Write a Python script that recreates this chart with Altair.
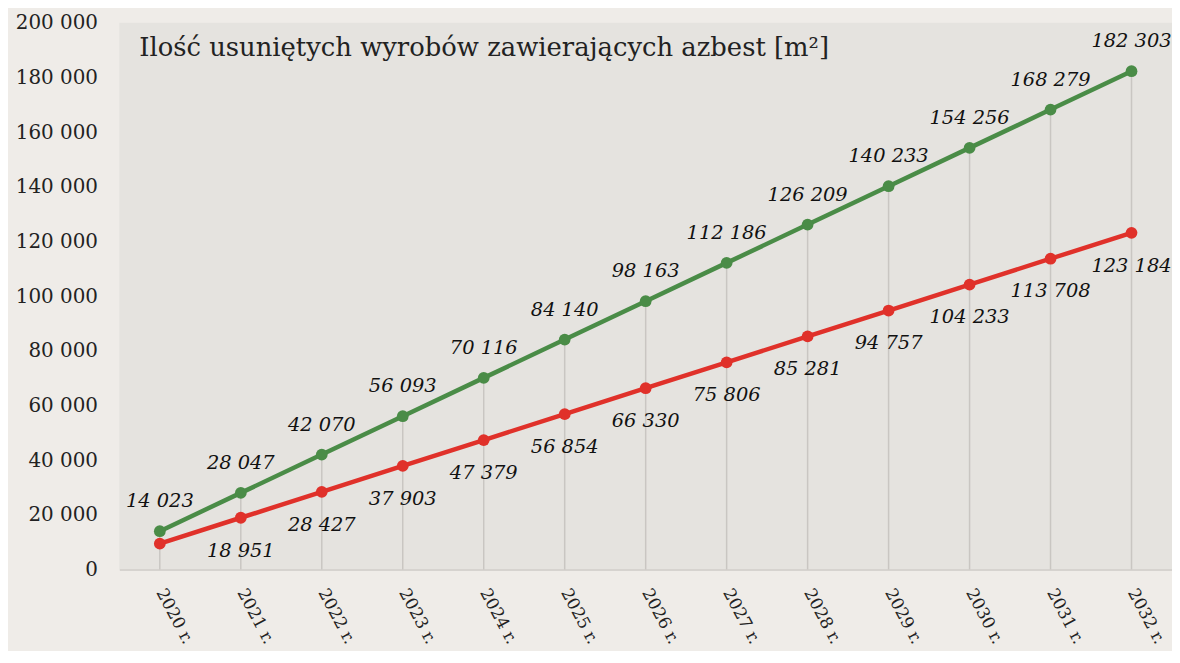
import altair as alt
import pandas as pd

years = ["2020 r.", "2021 r.", "2022 r.", "2023 r.", "2024 r.", "2025 r.", "2026 r.",
         "2027 r.", "2028 r.", "2029 r.", "2030 r.", "2031 r.", "2032 r."]
green = [14023, 28047, 42070, 56093, 70116, 84140, 98163, 112186, 126209, 140233,
         154256, 168279, 182303]
red = [9476, 18951, 28427, 37903, 47379, 56854, 66330, 75806, 85281, 94757,
       104233, 113708, 123184]
red_labelled = [False] + [True] * 12
title_text = "Ilość usuniętych wyrobów zawierających azbest [m²]"

def fmt(v):
    return f"{v:,}".replace(",", " ")

df = pd.DataFrame({
    "year": years,
    "green": green,
    "red": red,
    "green_lbl": [fmt(v) for v in green],
    "red_lbl": [fmt(v) if s else "" for v, s in zip(red, red_labelled)],
})

FONT = "DejaVu Serif"
GREEN = "#4a8c47"
RED = "#e0312a"

x = alt.X("year:N", sort=years, title=None,
          scale=alt.Scale(type="point", padding=0.5),
          axis=alt.Axis(labelAngle=62, labelFont=FONT, labelFontSize=17,
                        labelColor="#222222", labelPadding=20, ticks=False,
                        domain=True, domainColor="#d6d3cf", domainWidth=2,
                        grid=False, labelAlign="left", labelBaseline="middle"))
yscale = alt.Scale(domain=[0, 200000])
y_axis = alt.Axis(values=list(range(0, 200001, 20000)), labelFont=FONT,
                  labelFontSize=20, labelColor="#222222", labelPadding=22,
                  ticks=False, domain=False, grid=False,
                  labelExpr="replace(format(datum.value, ','), ',', ' ')")

base = alt.Chart(df)

drops = base.mark_rule(color="#c9c6c2", strokeWidth=1.5).encode(
    x=x, y=alt.Y("green:Q", scale=yscale, axis=y_axis, title=None),
    y2=alt.datum(0))

g_line = base.mark_line(color=GREEN, strokeWidth=4.5).encode(
    x=x, y=alt.Y("green:Q", scale=yscale))
g_pts = base.mark_point(color=GREEN, filled=True, opacity=1, size=140).encode(
    x=x, y=alt.Y("green:Q", scale=yscale))
r_line = base.mark_line(color=RED, strokeWidth=4.5).encode(
    x=x, y=alt.Y("red:Q", scale=yscale))
r_pts = base.mark_point(color=RED, filled=True, opacity=1, size=140).encode(
    x=x, y=alt.Y("red:Q", scale=yscale))

g_txt = base.mark_text(font=FONT, fontSize=19.5, fontStyle="italic", dy=-30,
                       color="#111111").encode(
    x=x, y=alt.Y("green:Q", scale=yscale), text="green_lbl:N")
r_txt = base.mark_text(font=FONT, fontSize=19.5, fontStyle="italic", dy=33,
                       color="#111111").encode(
    x=x, y=alt.Y("red:Q", scale=yscale), text="red_lbl:N")

title = alt.Chart(pd.DataFrame({"t": [title_text]})).mark_text(
    font=FONT, fontSize=26, align="left", baseline="middle", color="#222222"
).encode(x=alt.value(20), y=alt.value(25), text="t:N")

chart = alt.layer(drops, g_line, r_line, g_pts, r_pts, g_txt, r_txt, title).properties(
    width=1059, height=550,
    autosize=alt.AutoSizeParams(type="none"),
    padding={"left": 112, "top": 13, "right": 0, "bottom": 80},
    background="#efece8",
).configure_view(fill="#e5e3df", stroke=None)

chart.save("out.html", embed_options={"renderer": "svg", "actions": False})
